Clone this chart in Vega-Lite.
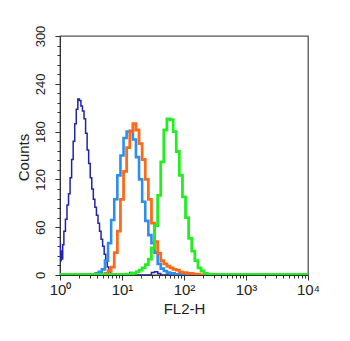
{
  "$schema": "https://vega.github.io/schema/vega-lite/v6.json",
  "width": 248,
  "height": 239,
  "autosize": "none",
  "padding": {"left": 60, "top": 36, "right": 42, "bottom": 66},
  "background": "white",
  "config": {
    "view": {"stroke": "#555555", "strokeWidth": 1.3},
    "font": "Liberation Sans"
  },
  "data": {
    "values": [
      {"s": "a", "x": 1, "c": 40}, {"s": "a", "x": 1.03, "c": 18}, {"s": "a", "x": 1.059, "c": 30}, {"s": "a", "x": 1.09, "c": 20}, {"s": "a", "x": 1.122, "c": 38},
      {"s": "a", "x": 1.189, "c": 55}, {"s": "a", "x": 1.259, "c": 70}, {"s": "a", "x": 1.334, "c": 88}, {"s": "a", "x": 1.413, "c": 102}, {"s": "a", "x": 1.496, "c": 122}, {"s": "a", "x": 1.585, "c": 145},
      {"s": "a", "x": 1.679, "c": 168}, {"s": "a", "x": 1.778, "c": 190}, {"s": "a", "x": 1.884, "c": 208}, {"s": "a", "x": 1.995, "c": 221}, {"s": "a", "x": 2.113, "c": 219}, {"s": "a", "x": 2.239, "c": 212},
      {"s": "a", "x": 2.371, "c": 206}, {"s": "a", "x": 2.512, "c": 196}, {"s": "a", "x": 2.661, "c": 178}, {"s": "a", "x": 2.818, "c": 157}, {"s": "a", "x": 2.985, "c": 140}, {"s": "a", "x": 3.162, "c": 122},
      {"s": "a", "x": 3.35, "c": 108}, {"s": "a", "x": 3.548, "c": 95}, {"s": "a", "x": 3.758, "c": 85}, {"s": "a", "x": 3.981, "c": 75}, {"s": "a", "x": 4.217, "c": 65}, {"s": "a", "x": 4.467, "c": 55},
      {"s": "a", "x": 4.732, "c": 45}, {"s": "a", "x": 5.012, "c": 36}, {"s": "a", "x": 5.309, "c": 26}, {"s": "a", "x": 5.623, "c": 17}, {"s": "a", "x": 5.957, "c": 10}, {"s": "a", "x": 6.31, "c": 5},
      {"s": "a", "x": 6.683, "c": 2}, {"s": "a", "x": 7.079, "c": 1}, {"s": "a", "x": 7.943, "c": 0}, {"s": "a", "x": 12.59, "c": 0},
      {"s": "a", "x": 14.13, "c": 3}, {"s": "a", "x": 15.85, "c": 2}, {"s": "a", "x": 17.78, "c": 0},
      {"s": "a", "x": 28.18, "c": 0}, {"s": "a", "x": 31.62, "c": 3}, {"s": "a", "x": 35.48, "c": 4},
      {"s": "a", "x": 39.81, "c": 2}, {"s": "a", "x": 44.67, "c": 0}, {"s": "a", "x": 10000, "c": 0},

      {"s": "b", "x": 1, "c": 0}, {"s": "b", "x": 3.162, "c": 0}, {"s": "b", "x": 3.548, "c": 1},
      {"s": "b", "x": 3.981, "c": 2}, {"s": "b", "x": 4.467, "c": 4}, {"s": "b", "x": 5.012, "c": 7},
      {"s": "b", "x": 5.623, "c": 18}, {"s": "b", "x": 6.31, "c": 40}, {"s": "b", "x": 7.079, "c": 69},
      {"s": "b", "x": 7.943, "c": 95}, {"s": "b", "x": 8.913, "c": 125}, {"s": "b", "x": 10, "c": 150},
      {"s": "b", "x": 11.22, "c": 172}, {"s": "b", "x": 12.59, "c": 180}, {"s": "b", "x": 14.13, "c": 181},
      {"s": "b", "x": 15.85, "c": 170}, {"s": "b", "x": 17.78, "c": 148}, {"s": "b", "x": 19.95, "c": 120},
      {"s": "b", "x": 22.39, "c": 92}, {"s": "b", "x": 25.12, "c": 68}, {"s": "b", "x": 28.18, "c": 50},
      {"s": "b", "x": 31.62, "c": 40}, {"s": "b", "x": 35.48, "c": 28}, {"s": "b", "x": 39.81, "c": 14},
      {"s": "b", "x": 44.67, "c": 8}, {"s": "b", "x": 50.12, "c": 5}, {"s": "b", "x": 56.23, "c": 3},
      {"s": "b", "x": 63.1, "c": 2}, {"s": "b", "x": 79.43, "c": 1}, {"s": "b", "x": 100, "c": 1},
      {"s": "b", "x": 125.9, "c": 0}, {"s": "b", "x": 10000, "c": 0},

      {"s": "c", "x": 1, "c": 0}, {"s": "c", "x": 5.012, "c": 0}, {"s": "c", "x": 5.623, "c": 2},
      {"s": "c", "x": 6.31, "c": 5}, {"s": "c", "x": 7.079, "c": 10}, {"s": "c", "x": 7.943, "c": 28},
      {"s": "c", "x": 8.913, "c": 55}, {"s": "c", "x": 10, "c": 95}, {"s": "c", "x": 11.22, "c": 130},
      {"s": "c", "x": 12.59, "c": 160}, {"s": "c", "x": 14.13, "c": 180}, {"s": "c", "x": 15.85, "c": 190},
      {"s": "c", "x": 17.78, "c": 182}, {"s": "c", "x": 19.95, "c": 165}, {"s": "c", "x": 22.39, "c": 145},
      {"s": "c", "x": 25.12, "c": 120}, {"s": "c", "x": 28.18, "c": 95}, {"s": "c", "x": 31.62, "c": 65},
      {"s": "c", "x": 35.48, "c": 42}, {"s": "c", "x": 39.81, "c": 27}, {"s": "c", "x": 44.67, "c": 18},
      {"s": "c", "x": 50.12, "c": 14}, {"s": "c", "x": 56.23, "c": 11}, {"s": "c", "x": 63.1, "c": 9},
      {"s": "c", "x": 70.79, "c": 7}, {"s": "c", "x": 79.43, "c": 6}, {"s": "c", "x": 89.13, "c": 4},
      {"s": "c", "x": 100, "c": 3}, {"s": "c", "x": 125.9, "c": 2}, {"s": "c", "x": 158.5, "c": 1},
      {"s": "c", "x": 199.5, "c": 0}, {"s": "c", "x": 10000, "c": 0},

      {"s": "d", "x": 1, "c": 0.8}, {"s": "d", "x": 10, "c": 0.8}, {"s": "d", "x": 12.59, "c": 1},
      {"s": "d", "x": 15.85, "c": 2}, {"s": "d", "x": 17.78, "c": 4}, {"s": "d", "x": 19.95, "c": 6},
      {"s": "d", "x": 22.39, "c": 9}, {"s": "d", "x": 25.12, "c": 13}, {"s": "d", "x": 28.18, "c": 20},
      {"s": "d", "x": 31.62, "c": 34}, {"s": "d", "x": 35.48, "c": 62}, {"s": "d", "x": 39.81, "c": 100},
      {"s": "d", "x": 44.67, "c": 142}, {"s": "d", "x": 50.12, "c": 182}, {"s": "d", "x": 56.23, "c": 196},
      {"s": "d", "x": 63.1, "c": 195}, {"s": "d", "x": 70.79, "c": 180}, {"s": "d", "x": 79.43, "c": 155},
      {"s": "d", "x": 89.13, "c": 125}, {"s": "d", "x": 100, "c": 98}, {"s": "d", "x": 112.2, "c": 72},
      {"s": "d", "x": 125.9, "c": 46}, {"s": "d", "x": 141.3, "c": 30}, {"s": "d", "x": 158.5, "c": 18},
      {"s": "d", "x": 177.8, "c": 9}, {"s": "d", "x": 199.5, "c": 5}, {"s": "d", "x": 223.9, "c": 2},
      {"s": "d", "x": 251.2, "c": 1}, {"s": "d", "x": 281.8, "c": 0.8}, {"s": "d", "x": 10000, "c": 0.8}
    ]
  },
  "encoding": {
    "x": {
      "field": "x",
      "type": "quantitative",
      "scale": {"type": "log", "domain": [1, 10000], "nice": false},
      "axis": {
        "title": "FL2-H",
        "titleFontSize": 15,
        "titleFontWeight": "normal",
        "titleColor": "#222",
        "titlePadding": 4,
        "values": [1,2,3,4,5,6,7,8,9,10,20,30,40,50,60,70,80,90,100,200,300,400,500,600,700,800,900,1000,2000,3000,4000,5000,6000,7000,8000,9000,10000],
        "labelExpr": "datum.value == 1 ? '10⁰' : datum.value == 10 ? '10¹' : datum.value == 100 ? '10²' : datum.value == 1000 ? '10³' : datum.value == 10000 ? '10⁴' : ''",
        "labelFontSize": 15,
        "labelColor": "#222",
        "labelOverlap": false,
        "labelFlush": false,
        "labelPadding": 2,
        "grid": false,
        "domainColor": "#333",
        "tickColor": "#333",
        "tickSize": {"condition": {"test": "datum.value == 1 || datum.value == 10 || datum.value == 100 || datum.value == 1000 || datum.value == 10000", "value": 5}, "value": 3}
      }
    },
    "y": {
      "field": "c",
      "type": "quantitative",
      "scale": {"domain": [0, 300], "nice": false},
      "axis": {
        "title": "Counts",
        "titleFontSize": 15,
        "titleFontWeight": "normal",
        "titleColor": "#222",
        "titleAngle": 270,
        "titleAlign": "center",
        "titleBaseline": "bottom",
        "titleX": -29,
        "titleY": 121,
        "values": [0,12,24,36,48,60,72,84,96,108,120,132,144,156,168,180,192,204,216,228,240,252,264,276,288,300],
        "labelExpr": "datum.value % 60 == 0 ? datum.label : ''",
        "labelAngle": -90,
        "labelAlign": "center",
        "labelBaseline": "bottom",
        "labelFontSize": 13,
        "labelColor": "#222",
        "labelPadding": 8,
        "labelOverlap": false,
        "labelFlush": false,
        "grid": false,
        "domainColor": "#333",
        "tickColor": "#333",
        "tickSize": {"condition": {"test": "datum.value % 60 == 0", "value": 5}, "value": 3}
      }
    }
  },
  "layer": [
    {"transform": [{"filter": "datum.s == 'a'"}], "mark": {"type": "line", "interpolate": "step", "clip": true, "color": "#2222aa", "strokeWidth": 1.5}},
    {"transform": [{"filter": "datum.s == 'b'"}], "mark": {"type": "line", "interpolate": "step", "clip": true, "color": "#2a8ff0", "strokeWidth": 2.6}},
    {"transform": [{"filter": "datum.s == 'c'"}], "mark": {"type": "line", "interpolate": "step", "clip": true, "color": "#ff6a1a", "strokeWidth": 2.8}},
    {"transform": [{"filter": "datum.s == 'd'"}], "mark": {"type": "line", "interpolate": "step", "clip": true, "color": "#22ee22", "strokeWidth": 2.8}}
  ]
}
